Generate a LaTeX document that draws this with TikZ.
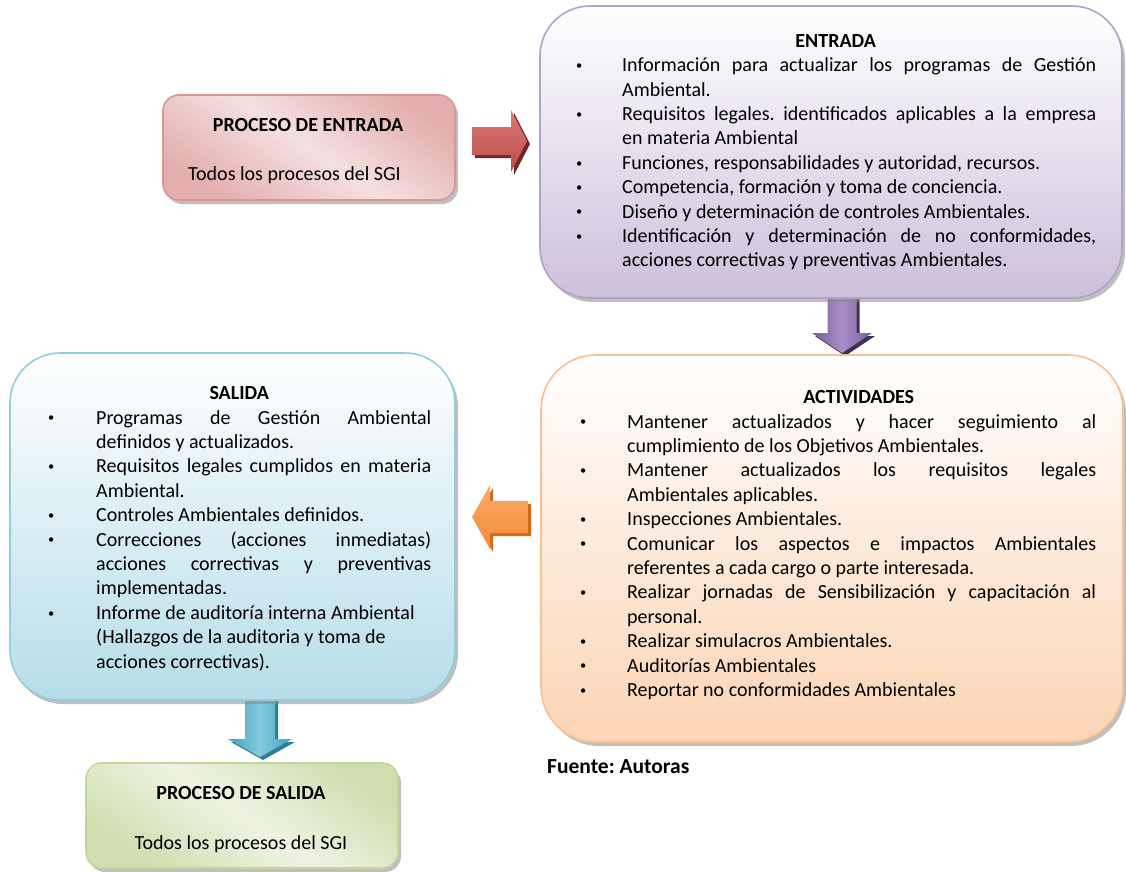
\documentclass[tikz,border=0pt]{standalone}
\usepackage{fontspec}
\usepackage{graphicx}
\setmainfont{Carlito}
\frenchspacing
\usetikzlibrary{shadows,calc}
\definecolor{peFillA}{HTML}{E3AFAE}
\definecolor{peFillB}{HTML}{F4E0DF}
\definecolor{peLine}{HTML}{D99694}
\definecolor{enFill}{HTML}{CCC0DA}
\definecolor{enLine}{HTML}{B3A2C7}
\definecolor{acFill}{HTML}{FBD4B4}
\definecolor{acLine}{HTML}{FAC08F}
\definecolor{saFill}{HTML}{B6DDE8}
\definecolor{saLine}{HTML}{93CDDD}
\definecolor{psFillA}{HTML}{CFDEAF}
\definecolor{psFillB}{HTML}{EEF3E2}
\definecolor{psLine}{HTML}{C3D69B}
\definecolor{redA}{HTML}{D97B78}
\definecolor{redB}{HTML}{BE4B48}
\definecolor{redS}{HTML}{732725}
\definecolor{purA}{HTML}{7A5C9E}
\definecolor{purB}{HTML}{A88FC6}
\definecolor{purS}{HTML}{3F3151}
\definecolor{oraA}{HTML}{F9AC6B}
\definecolor{oraB}{HTML}{F58A35}
\definecolor{oraS}{HTML}{D46A14}
\definecolor{bluA}{HTML}{3FA3BE}
\definecolor{bluB}{HTML}{86CADC}
\definecolor{bluS}{HTML}{2A7E95}
\tikzset{
  box/.style={draw, line width=1.6pt, inner sep=0pt,
    drop shadow={shadow xshift=3pt, shadow yshift=-4pt, fill=black!45, opacity=0.55}},
  txt/.style={inner sep=0pt, align=left, font=\fontsize{20}{24.4}\selectfont},
  lbl/.style={inner sep=0pt, font=\fontsize{20}{24.4}\selectfont},
}
\newcommand\redarr[1]{(#1) -- ++(-16,-31) -- ++(0,17) -- ++(-39,0) -- ++(0,28) -- ++(39,0) -- ++(0,17) -- cycle}
\newcommand\purarr[1]{(#1) -- ++(-30,-20) -- ++(15.5,0) -- ++(0,-48) -- ++(29,0) -- ++(0,48) -- ++(15.5,0) -- cycle}
\newcommand\oraarr[1]{(#1) -- ++(18,-32) -- ++(0,16) -- ++(38,0) -- ++(0,32) -- ++(-38,0) -- ++(0,16) -- cycle}
\newcommand\bluarr[1]{(#1) -- ++(-32,-18) -- ++(17,0) -- ++(0,-50) -- ++(30,0) -- ++(0,50) -- ++(17,0) -- cycle}
\newcommand\bul[1]{\makebox[#1][l]{\hspace*{1pt}\raisebox{2.2pt}{\scalebox{0.62}{•}}}}
\begin{document}
\begin{tikzpicture}[x=1pt,y=-1pt]
\fill[white] (0,0) rectangle (1126,871);
\useasboundingbox (0,0) rectangle (1126,871);

% arrow tips
\coordinate (rT) at (527,141);
\coordinate (pT) at (842,353);
\coordinate (oT) at (472,517);
\coordinate (bT) at (260,757);

% arrows (drawn first, boxes cover the shaft starts)
\fill[redS] \redarr{$(rT)+(3,3)$};
\shade[top color=redA, bottom color=redB] \redarr{rT};
\fill[purS] \purarr{$(pT)+(3,3)$};
\shade[left color=purA, right color=purA, middle color=purB] \purarr{pT};
\fill[oraS] \oraarr{$(oT)+(3,3)$};
\shade[top color=oraA, bottom color=oraB] \oraarr{oT};
\fill[bluS] \bluarr{$(bT)+(3,3)$};
\shade[left color=bluA, right color=bluA, middle color=bluB] \bluarr{bT};

% boxes
\node[box, draw=peLine, rounded corners=16pt, minimum width=292pt, minimum height=105pt,
  top color=peFillA, bottom color=peFillA, middle color=peFillB, shading angle=-35] (pe) at (309,147.5) {};
\node[box, draw=enLine, rounded corners=50pt, minimum width=582pt, minimum height=292pt,
  top color=white, bottom color=enFill] (en) at (831,152) {};
\node[box, draw=acLine, rounded corners=55pt, minimum width=582pt, minimum height=387pt,
  top color=white, bottom color=acFill] (ac) at (832,548.5) {};
\node[box, draw=saLine, rounded corners=50pt, minimum width=445pt, minimum height=347pt,
  top color=white, bottom color=saFill] (sa) at (232.5,526.5) {};
\node[box, draw=psLine, rounded corners=16pt, minimum width=312pt, minimum height=105pt,
  top color=psFillA, bottom color=psFillA, middle color=psFillB, shading angle=-35] (ps) at (242,815.5) {};

% texts
\node[lbl, anchor=base] (peT) at (308,131) {\textbf{PROCESO DE ENTRADA}};
\node[lbl, anchor=base west] (peS) at (188,180) {Todos los procesos del SGI};
\node[lbl, anchor=base] (psT) at (241,799) {\textbf{PROCESO DE SALIDA}};
\node[lbl, anchor=base] (psS) at (241,849) {Todos los procesos del SGI};

\node[txt, anchor=north west] (enX) at (575,30) {%
\strut\makebox[521pt][c]{\textbf{ENTRADA}}\\
\bul{47pt}\makebox[474pt][s]{Información para actualizar los programas de Gestión}\\
\hspace*{47pt}Ambiental.\\
\bul{47pt}\makebox[474pt][s]{Requisitos legales. identificados aplicables a la empresa}\\
\hspace*{47pt}en materia Ambiental\\
\bul{47pt}Funciones, responsabilidades y autoridad, recursos.\\
\bul{47pt}Competencia, formación y toma de conciencia.\\
\bul{47pt}Diseño y determinación de controles Ambientales.\\
\bul{47pt}\makebox[474pt][s]{Identificación y determinación de no conformidades,}\\
\hspace*{47pt}acciones correctivas y preventivas Ambientales.};

\node[txt, anchor=north west] (acX) at (579,386.5) {%
\strut\makebox[517pt][c]{\hspace*{42pt}\textbf{ACTIVIDADES}}\\
\bul{48pt}\makebox[469pt][s]{Mantener actualizados y hacer seguimiento al}\\
\hspace*{48pt}cumplimiento de los Objetivos Ambientales.\\
\bul{48pt}\makebox[469pt][s]{Mantener actualizados los requisitos legales}\\
\hspace*{48pt}Ambientales aplicables.\\
\bul{48pt}Inspecciones Ambientales.\\
\bul{48pt}\makebox[469pt][s]{Comunicar los aspectos e impactos Ambientales}\\
\hspace*{48pt}referentes a cada cargo o parte interesada.\\
\bul{48pt}\makebox[469pt][s]{Realizar jornadas de Sensibilización y capacitación al}\\
\hspace*{48pt}personal.\\
\bul{48pt}Realizar simulacros Ambientales.\\
\bul{48pt}Auditorías Ambientales\\
\bul{48pt}Reportar no conformidades Ambientales};

\node[txt, anchor=north west] (saX) at (47,382.5) {%
\strut\makebox[384pt][c]{\textbf{SALIDA}}\\
\bul{49pt}\makebox[335pt][s]{Programas de Gestión Ambiental}\\
\hspace*{49pt}definidos y actualizados.\\
\bul{49pt}\makebox[335pt][s]{Requisitos legales cumplidos en materia}\\
\hspace*{49pt}Ambiental.\\
\bul{49pt}Controles Ambientales definidos.\\
\bul{49pt}\makebox[335pt][s]{Correcciones (acciones inmediatas)}\\
\hspace*{49pt}\makebox[335pt][s]{acciones correctivas y preventivas}\\
\hspace*{49pt}implementadas.\\
\bul{49pt}Informe de auditoría interna Ambiental\\
\hspace*{49pt}(Hallazgos de la auditoria y toma de\\
\hspace*{49pt}acciones correctivas).};

\node[inner sep=0pt, anchor=base west, font=\fontsize{21.5}{26}\selectfont\bfseries] (fu) at (547,773) {Fuente: Autoras};
\end{tikzpicture}
\end{document}
